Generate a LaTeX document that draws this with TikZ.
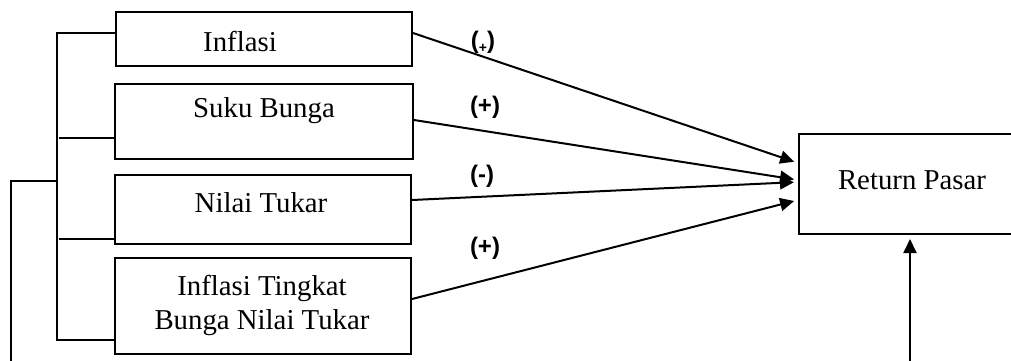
\documentclass[tikz,border=0pt]{standalone}
\usepackage{fontspec}
\setmainfont{Liberation Serif}
\newfontfamily\signfont{Liberation Sans}
\usetikzlibrary{arrows.meta}
\tikzset{
  varbox/.style={draw, line width=1pt, inner sep=0pt},
  vartext/.style={font=\fontsize{14.4}{17}\selectfont, align=center, inner sep=0pt},
  wire/.style={line width=1pt},
  effect/.style={line width=1pt, -{Triangle[length=7pt,width=6.5pt]}, shorten >=2pt},
  sign/.style={font=\signfont\bfseries\fontsize{12}{12}\selectfont, inner sep=0pt}
}
\begin{document}
\begin{tikzpicture}[x=0.5pt,y=-0.5pt]
\useasboundingbox (0,0) rectangle (1011,360);
\clip (0,0) rectangle (1011,360);

% independent variables
\node[varbox, minimum width=148pt, minimum height=27pt]   (inf) at (264,39)    {};
\node[varbox, minimum width=149pt, minimum height=37.5pt] (suku) at (264,121.5) {};
\node[varbox, minimum width=148pt, minimum height=34.5pt] (nilai) at (263,209.5) {};
\node[varbox, minimum width=148pt, minimum height=48pt]   (gab) at (263,306)   {};
% dependent variable
\node[varbox, minimum width=113pt, minimum height=50pt]   (ret) at (912,184)   {};

\node[vartext] (tinf)   at (240,41)  {Inflasi};
\node[vartext] (tsuku)  at (264,111) {Suku Bunga};
\node[vartext] (tnilai) at (261,203) {Nilai Tukar};
\node[vartext] (tgab)   at (262,305) {Inflasi Tingkat\\Bunga Nilai Tukar};
\node[vartext] (tret)   at (912,180) {Return Pasar};

% bracket joining the four variables
\coordinate (btop) at (57,33);
\coordinate (bbot) at (57,340);
\coordinate (bmid) at (57,181);
\coordinate (bout) at (11,181);
\coordinate (bend) at (11,362);
\coordinate (b2) at (59,138);
\coordinate (b3) at (59,239);
\draw[wire] (btop -| inf.west) -- (btop) -- (bbot) -- (bbot -| gab.west);
\draw[wire] (b2) -- (b2 -| suku.west);
\draw[wire] (b3) -- (b3 -| nilai.west);
\draw[wire] (bmid) -- (bout) -- (bend);

% effects on market return
\coordinate (e1) at (0,163);
\coordinate (e2) at (0,180);
\coordinate (e3) at (0,182);
\coordinate (e4) at (0,200);
\draw[effect] (inf.east |- 0,33)    -- (ret.west |- e1);
\draw[effect] (suku.east |- 0,120)  -- (ret.west |- e2);
\draw[effect] (nilai.east |- 0,200) -- (ret.west |- e3);
\draw[effect] (gab.east |- 0,299)   -- (ret.west |- e4);

\coordinate (up) at (910,362);
\draw[effect] (up) -- (up |- ret.south);

% signs of the effects
\node[sign] (s1) at (483,42)  {(\raisebox{-0.35ex}{\fontsize{7}{7}\selectfont+})};
\node[sign] (s2) at (485,107) {(+)};
\node[sign] (s3) at (482,176) {(-)};
\node[sign] (s4) at (485,248) {(+)};
\end{tikzpicture}
\end{document}
